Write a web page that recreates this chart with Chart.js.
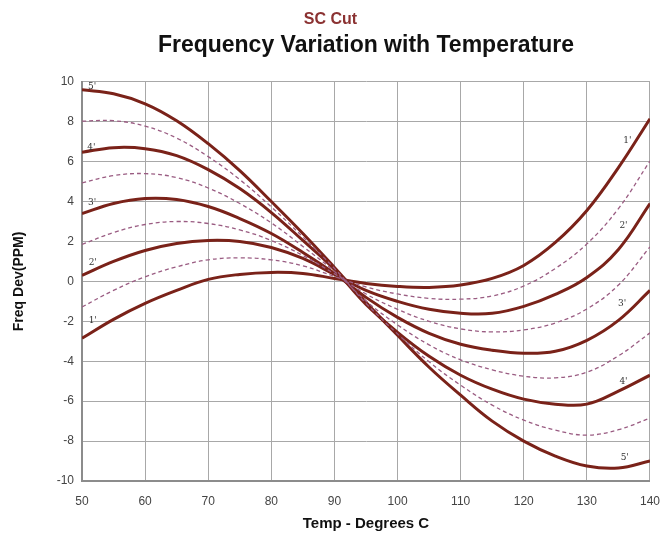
<!DOCTYPE html>
<html lang="en">

<head>
    <meta charset="UTF-8">
    <title>SC Cut - Frequency Variation with Temperature</title>
    <script src="https://cdn.jsdelivr.net/npm/chart.js"></script>
    <style>
        html, body { margin: 0; padding: 0; background: #fff; }
        #wrap { width: 661px; height: 533px; }
    </style>
</head>

<body>
    <div id="wrap">
        <canvas id="grafico"></canvas>
    </div>

    <script>
        // temperatures (deg C) where the curves were read
        const temps = [50, 55, 60, 65, 70, 75, 80, 85, 90, 95, 100, 105, 110, 115, 120, 125, 130, 135, 140];

        // solid curves 1' .. 5' (PPM)
        const curve1 = [-2.85, -1.9, -1.1, -0.45, 0.1, 0.35, 0.45, 0.4, 0.15, -0.1, -0.25, -0.3, -0.18, 0.15, 0.8, 1.95, 3.55, 5.7, 8.15];
        const curve2 = [0.3, 1.0, 1.55, 1.9, 2.05, 2.0, 1.7, 1.15, 0.35, -0.45, -1.0, -1.4, -1.6, -1.6, -1.25, -0.65, 0.2, 1.6, 3.9];
        const curve3 = [3.4, 3.9, 4.15, 4.1, 3.75, 3.15, 2.4, 1.45, 0.4, -0.8, -1.8, -2.6, -3.15, -3.45, -3.6, -3.5, -2.95, -1.95, -0.45];
        const curve4 = [6.47, 6.7, 6.65, 6.3, 5.6, 4.65, 3.45, 2.05, 0.6, -1.15, -2.55, -3.75, -4.7, -5.4, -5.9, -6.15, -6.15, -5.5, -4.7];
        const curve5 = [9.6, 9.4, 8.9, 8.05, 6.9, 5.55, 4.0, 2.4, 0.7, -1.05, -2.7, -4.3, -5.7, -7.0, -8.0, -8.75, -9.25, -9.35, -9.0];

        // dashed curves between them
        const dash12 = [-1.28, -0.45, 0.23, 0.73, 1.08, 1.18, 1.08, 0.78, 0.25, -0.28, -0.63, -0.85, -0.89, -0.73, -0.23, 0.65, 1.88, 3.65, 6.03];
        const dash23 = [1.85, 2.45, 2.85, 3.0, 2.9, 2.58, 2.05, 1.3, 0.38, -0.63, -1.4, -2.0, -2.38, -2.53, -2.43, -2.08, -1.38, -0.18, 1.73];
        const dash34 = [4.94, 5.3, 5.4, 5.2, 4.68, 3.9, 2.93, 1.75, 0.5, -0.98, -2.18, -3.18, -3.93, -4.43, -4.75, -4.83, -4.55, -3.73, -2.58];
        const dash45 = [8.03, 8.05, 7.78, 7.18, 6.25, 5.1, 3.73, 2.23, 0.65, -1.1, -2.63, -4.03, -5.2, -6.2, -6.95, -7.45, -7.7, -7.43, -6.85];

        // small curve tags (text, temp, ppm)
        const tagTexts = ["5'", "4'", "3'", "2'", "1'", "1'", "2'", "3'", "4'", "5'"];
        const tagTemps = [51.6, 51.5, 51.6, 51.7, 51.7, 136.4, 135.8, 135.6, 135.8, 136.0];
        const tagPPM = [9.75, 6.7, 3.95, 0.95, -1.95, 7.05, 2.8, -1.1, -5.0, -8.85];

        const solidColor = '#7a2219';
        const dashColor = '#9a5c82';

        function pontos(valores) {
            return temps.map((t, i) => ({ x: t, y: valores[i] }));
        }

        function solida(valores) {
            return {
                data: pontos(valores),
                borderColor: solidColor,
                borderWidth: 3,
                pointRadius: 0,
                tension: 0.4,
                fill: false
            };
        }

        function tracejada(valores) {
            return {
                data: pontos(valores),
                borderColor: dashColor,
                borderWidth: 1.3,
                borderDash: [4, 3],
                pointRadius: 0,
                tension: 0.4,
                fill: false
            };
        }

        // draws the 1'..5' tags next to the curves
        const tagsPlugin = {
            id: 'tags',
            afterDatasetsDraw(chart) {
                const ctx = chart.ctx;
                const xs = chart.scales.x;
                const ys = chart.scales.y;
                ctx.save();
                ctx.font = '9px "DejaVu Serif"';
                ctx.fillStyle = '#333';
                ctx.textAlign = 'center';
                ctx.textBaseline = 'middle';
                tagTexts.forEach((txt, i) => {
                    ctx.fillText(txt, xs.getPixelForValue(tagTemps[i]), ys.getPixelForValue(tagPPM[i]));
                });
                ctx.restore();
            }
        };

        const ctx = document.getElementById('grafico').getContext('2d');
        new Chart(ctx, {
            type: 'line',
            data: {
                datasets: [
                    tracejada(dash12), tracejada(dash23), tracejada(dash34), tracejada(dash45),
                    solida(curve1), solida(curve2), solida(curve3), solida(curve4), solida(curve5)
                ]
            },
            options: {
                responsive: true,
                maintainAspectRatio: false,
                animation: false,
                plugins: {
                    legend: { display: false },
                    tooltip: { enabled: false },
                    title: {
                        display: true,
                        text: 'SC Cut',
                        color: '#8b3232',
                        font: { family: 'Liberation Sans', size: 16, weight: 'bold' },
                        padding: { top: 10, bottom: 3 }
                    },
                    subtitle: {
                        display: true,
                        fullSize: false,
                        text: 'Frequency Variation with Temperature',
                        color: '#111',
                        font: { family: 'Liberation Sans', size: 23, weight: 'bold' },
                        padding: { top: 0, bottom: 22 }
                    }
                },
                scales: {
                    x: {
                        type: 'linear',
                        min: 50,
                        max: 140,
                        ticks: {
                            stepSize: 10,
                            color: '#444',
                            padding: 1,
                            font: { family: 'Liberation Sans', size: 12 }
                        },
                        // invisible tick marks only push the labels down
                        grid: { color: '#a8a8a8', drawTicks: true, tickLength: 12, tickColor: 'rgba(0,0,0,0)' },
                        border: { color: '#8c8c8c', width: 2 },
                        title: {
                            display: true,
                            text: 'Temp - Degrees C',
                            color: '#111',
                            font: { family: 'Liberation Sans', size: 15, weight: 'bold' },
                            padding: { top: 0, bottom: 0 }
                        },
                        afterFit: function (scale) { scale.height = 52; }
                    },
                    y: {
                        min: -10,
                        max: 10,
                        ticks: {
                            stepSize: 2,
                            color: '#444',
                            padding: 8,
                            font: { family: 'Liberation Sans', size: 12 }
                        },
                        grid: { color: '#a8a8a8', drawTicks: false },
                        border: { color: '#8c8c8c', width: 2 },
                        title: {
                            display: true,
                            text: 'Freq Dev(PPM)',
                            color: '#111',
                            font: { family: 'Liberation Sans', size: 14, weight: 'bold' },
                            padding: { top: 11, bottom: 0 }
                        },
                        afterFit: function (scale) { scale.width = 82; }
                    }
                }
            },
            plugins: [tagsPlugin]
        });
    </script>
</body>

</html>
